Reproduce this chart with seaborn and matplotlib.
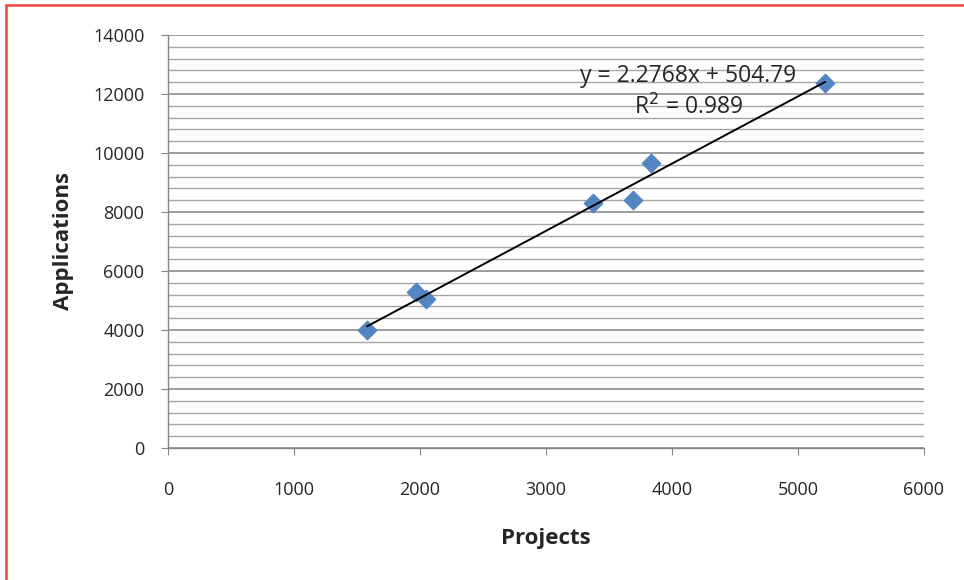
import numpy as np
import pandas as pd
import seaborn as sns
import matplotlib.pyplot as plt
from matplotlib.ticker import MultipleLocator
from matplotlib.lines import Line2D

projects = [1580, 1970, 2050, 3370, 3690, 3830, 5215]
applications = [4000, 5300, 5040, 8320, 8420, 9670, 12380]
equation = "y = 2.2768x + 504.79"
r_squared = "R$^2$ = 0.989"

df = pd.DataFrame({"Projects": projects, "Applications": applications})

sns.set_style("white")
plt.rcParams['font.family'] = ['Open Sans', 'DejaVu Sans']

fig = plt.figure(figsize=(9.64, 5.80), dpi=100)
ax = fig.add_axes([0.1743, 0.2276, 0.7842, 0.7121])

sns.scatterplot(data=df, x="Projects", y="Applications", marker="D", s=95,
                color="#5285C2", edgecolor="#4A7AB5", linewidth=0.5, zorder=3, ax=ax)
sns.regplot(data=df, x="Projects", y="Applications", ci=None, scatter=False,
            line_kws={"color": "black", "lw": 1.4, "zorder": 4}, ax=ax)

ax.set_xlim(0, 6000)
ax.set_ylim(0, 14000)
ax.xaxis.set_major_locator(MultipleLocator(1000))
ax.yaxis.set_major_locator(MultipleLocator(2000))
ax.yaxis.set_minor_locator(MultipleLocator(400))
ax.grid(False)
ax.yaxis.grid(True, which="major", color="#8c8c8c", lw=1.2)
ax.yaxis.grid(True, which="minor", color="#a6a6a6", lw=1.0)
ax.set_axisbelow(True)

for side in ["top", "right"]:
    ax.spines[side].set_visible(False)
for side in ["left", "bottom"]:
    ax.spines[side].set_color("#868686")
    ax.spines[side].set_linewidth(1.0)

ax.tick_params(axis="y", which="major", direction="out", length=5, color="#868686",
               labelsize=13, pad=12, left=True)
ax.tick_params(axis="y", which="minor", left=False)
ax.tick_params(axis="x", which="major", direction="out", length=5, color="#868686",
               labelsize=13, pad=19, bottom=True)

ax.set_xlabel("Projects", fontsize=16, fontweight="bold", labelpad=21)
ax.set_ylabel("Applications", fontsize=16, fontweight="bold", labelpad=14)

ax.text(4130, 12600, equation, fontsize=16.5, ha="center", va="center")
ax.text(4130, 11550, r_squared, fontsize=16.5, ha="center", va="center")

# red frame around the figure
fig.add_artist(Line2D([0.006, 0.006], [0, 0.992], transform=fig.transFigure,
                      color="#f0453a", lw=1.8))
fig.add_artist(Line2D([0.006, 1], [0.992, 0.992], transform=fig.transFigure,
                      color="#f0453a", lw=1.8))

plt.savefig("out.png", dpi=100)
